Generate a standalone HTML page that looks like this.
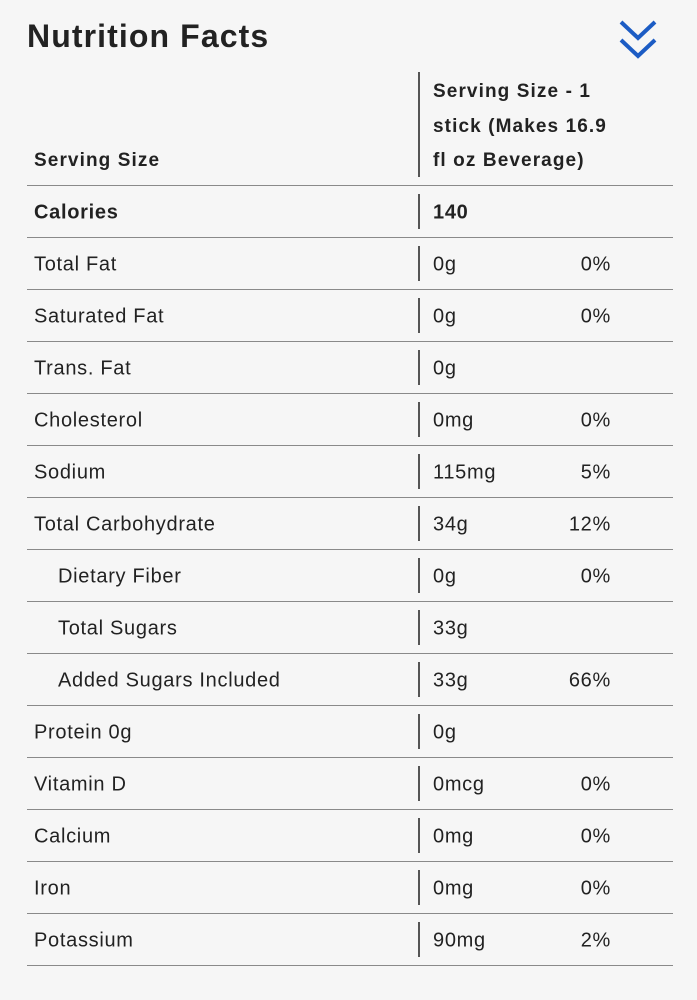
<!DOCTYPE html>
<html><head><style>
body{margin:0;width:697px;height:1000px;background:#f6f6f6;font-family:"Liberation Sans",sans-serif;color:#222;position:relative;overflow:hidden}
h1{position:absolute;left:27px;top:18px;margin:0;font-size:32px;font-weight:bold;color:#222;letter-spacing:1.1px}
.row{position:absolute;left:27px;width:646px;height:51px;border-bottom:1px solid #8a8a8a;font-size:20px;letter-spacing:0.7px}
.row span{position:absolute;top:50%;transform:translateY(-45%)}
.l{left:7px}.l.i{left:31px}
.v{left:406px}
.p{right:62px}
.d{position:absolute;left:391px;top:8px;bottom:8px;border-left:2px solid #555}
</style></head><body>
<h1>Nutrition Facts</h1>
<svg style="position:absolute;left:618px;top:18px" width="42" height="44"><g fill="none" stroke="#1c5cc4" stroke-width="4"><polyline points="3,4 20,20 37,4"/><polyline points="3,22 20,38 37,22"/></g></svg>
<div class="row" style="top:72px;height:113px;font-weight:bold;font-size:19px;letter-spacing:1.1px">
<div style="position:absolute;left:7px;top:78px">Serving Size</div>
<div class="d" style="top:0;bottom:8px"></div>
<div style="position:absolute;left:406px;top:3px;line-height:34.5px">Serving Size - 1<br>stick (Makes 16.9<br>fl oz Beverage)</div>
</div>
<div class="row" style="top:186px;font-weight:bold"><span class="l">Calories</span><div class="d"></div><span class="v">140</span></div>
<div class="row" style="top:238px"><span class="l">Total Fat</span><div class="d"></div><span class="v">0g</span><span class="p">0%</span></div>
<div class="row" style="top:290px"><span class="l">Saturated Fat</span><div class="d"></div><span class="v">0g</span><span class="p">0%</span></div>
<div class="row" style="top:342px"><span class="l">Trans. Fat</span><div class="d"></div><span class="v">0g</span></div>
<div class="row" style="top:394px"><span class="l">Cholesterol</span><div class="d"></div><span class="v">0mg</span><span class="p">0%</span></div>
<div class="row" style="top:446px"><span class="l">Sodium</span><div class="d"></div><span class="v">115mg</span><span class="p">5%</span></div>
<div class="row" style="top:498px"><span class="l">Total Carbohydrate</span><div class="d"></div><span class="v">34g</span><span class="p">12%</span></div>
<div class="row" style="top:550px"><span class="l i">Dietary Fiber</span><div class="d"></div><span class="v">0g</span><span class="p">0%</span></div>
<div class="row" style="top:602px"><span class="l i">Total Sugars</span><div class="d"></div><span class="v">33g</span></div>
<div class="row" style="top:654px"><span class="l i">Added Sugars Included</span><div class="d"></div><span class="v">33g</span><span class="p">66%</span></div>
<div class="row" style="top:706px"><span class="l">Protein 0g</span><div class="d"></div><span class="v">0g</span></div>
<div class="row" style="top:758px"><span class="l">Vitamin D</span><div class="d"></div><span class="v">0mcg</span><span class="p">0%</span></div>
<div class="row" style="top:810px"><span class="l">Calcium</span><div class="d"></div><span class="v">0mg</span><span class="p">0%</span></div>
<div class="row" style="top:862px"><span class="l">Iron</span><div class="d"></div><span class="v">0mg</span><span class="p">0%</span></div>
<div class="row" style="top:914px"><span class="l">Potassium</span><div class="d"></div><span class="v">90mg</span><span class="p">2%</span></div>
</body></html>
